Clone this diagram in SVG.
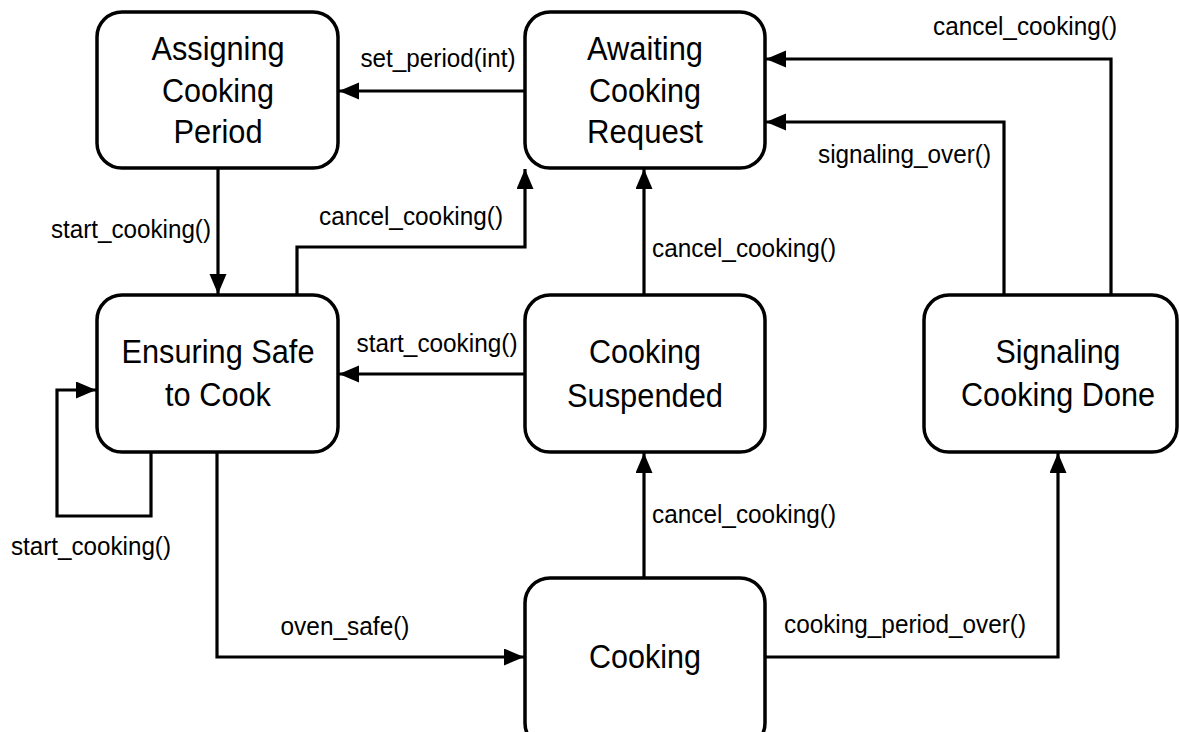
<svg xmlns="http://www.w3.org/2000/svg" width="1179" height="732" viewBox="0 0 1179 732">
<style>
.box{fill:#fff;stroke:#000;stroke-width:3.5}
.nt{font-family:"Liberation Sans",Arial,sans-serif;font-size:33px;fill:#000;text-anchor:middle}
.lb{font-family:"Liberation Sans",Arial,sans-serif;font-size:25px;fill:#000}
.cn{fill:none;stroke:#000;stroke-width:3.2;marker-end:url(#ah)}
</style>
<defs>
<marker id="ah" markerUnits="userSpaceOnUse" markerWidth="21" markerHeight="18" refX="20" refY="8.5" orient="auto">
<polygon points="0,0 20,8.5 0,17" fill="#000"/>
</marker>
</defs>
<rect width="1179" height="732" fill="#fff"/>
<g id="connectors">
<path class="cn" d="M525,91 H339"/>
<path class="cn" d="M218,168 V294"/>
<path class="cn" d="M297,295 V247 H525 V169"/>
<path class="cn" d="M1111,295 V59 H766"/>
<path class="cn" d="M1004,295 V122 H766"/>
<path class="cn" d="M644,295 V169"/>
<path class="cn" d="M525,374 H339"/>
<path class="cn" d="M151,452 V516 H57 V390 H96"/>
<path class="cn" d="M217,452 V657 H524"/>
<path class="cn" d="M644,578 V453"/>
<path class="cn" d="M765,657 H1058 V453"/>
<text class="lb" x="438" y="67" text-anchor="middle" textLength="155" lengthAdjust="spacingAndGlyphs">set_period(int)</text>
<text class="lb" x="211" y="238" text-anchor="end" textLength="160" lengthAdjust="spacingAndGlyphs">start_cooking()</text>
<text class="lb" x="411" y="225" text-anchor="middle" textLength="184" lengthAdjust="spacingAndGlyphs">cancel_cooking()</text>
<text class="lb" x="1025" y="35" text-anchor="middle" textLength="184" lengthAdjust="spacingAndGlyphs">cancel_cooking()</text>
<text class="lb" x="991" y="163" text-anchor="end" textLength="173" lengthAdjust="spacingAndGlyphs">signaling_over()</text>
<text class="lb" x="652" y="257" textLength="184" lengthAdjust="spacingAndGlyphs">cancel_cooking()</text>
<text class="lb" x="437" y="352" text-anchor="middle" textLength="161" lengthAdjust="spacingAndGlyphs">start_cooking()</text>
<text class="lb" x="91" y="555" text-anchor="middle" textLength="160" lengthAdjust="spacingAndGlyphs">start_cooking()</text>
<text class="lb" x="345" y="635" text-anchor="middle" textLength="129" lengthAdjust="spacingAndGlyphs">oven_safe()</text>
<text class="lb" x="652" y="523" textLength="184" lengthAdjust="spacingAndGlyphs">cancel_cooking()</text>
<text class="lb" x="905" y="633" text-anchor="middle" textLength="242" lengthAdjust="spacingAndGlyphs">cooking_period_over()</text>
</g>
<g id="assigning">
<rect class="box" x="97" y="12" width="241" height="156" rx="25"/>
<text class="nt" x="218" y="60" textLength="133" lengthAdjust="spacingAndGlyphs">Assigning</text>
<text class="nt" x="218" y="102" textLength="112" lengthAdjust="spacingAndGlyphs">Cooking</text>
<text class="nt" x="218" y="143" textLength="89" lengthAdjust="spacingAndGlyphs">Period</text>
</g>
<g id="awaiting">
<rect class="box" x="525" y="12" width="240" height="156" rx="25"/>
<text class="nt" x="645" y="60" textLength="116" lengthAdjust="spacingAndGlyphs">Awaiting</text>
<text class="nt" x="645" y="102" textLength="112" lengthAdjust="spacingAndGlyphs">Cooking</text>
<text class="nt" x="645" y="143" textLength="116" lengthAdjust="spacingAndGlyphs">Request</text>
</g>
<g id="ensuring">
<rect class="box" x="97" y="295" width="241" height="157" rx="25"/>
<text class="nt" x="218" y="363" textLength="193" lengthAdjust="spacingAndGlyphs">Ensuring Safe</text>
<text class="nt" x="218" y="406" textLength="106" lengthAdjust="spacingAndGlyphs">to Cook</text>
</g>
<g id="suspended">
<rect class="box" x="525" y="295" width="240" height="157" rx="25"/>
<text class="nt" x="645" y="363" textLength="112" lengthAdjust="spacingAndGlyphs">Cooking</text>
<text class="nt" x="645" y="407" textLength="156" lengthAdjust="spacingAndGlyphs">Suspended</text>
</g>
<g id="signaling">
<rect class="box" x="924" y="295" width="253" height="157" rx="25"/>
<text class="nt" x="1058" y="363" textLength="125" lengthAdjust="spacingAndGlyphs">Signaling</text>
<text class="nt" x="1058" y="406" textLength="194" lengthAdjust="spacingAndGlyphs">Cooking Done</text>
</g>
<g id="cooking">
<rect class="box" x="525" y="578" width="240" height="170" rx="25"/>
<text class="nt" x="645" y="668" textLength="112" lengthAdjust="spacingAndGlyphs">Cooking</text>
</g>
</svg>
